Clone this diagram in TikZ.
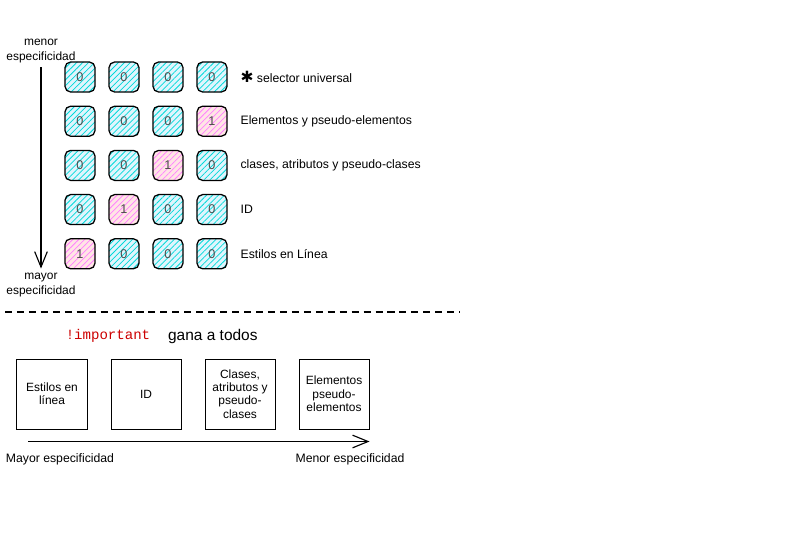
\documentclass[tikz,border=0pt]{standalone}
\usepackage{fontspec}
\setmainfont{Liberation Sans}
\newfontfamily\codefont{Liberation Mono}
\newfontfamily\symfont{DejaVu Sans}
\usetikzlibrary{arrows.meta, patterns.meta, positioning}

\begin{document}
\begin{tikzpicture}[
        x=0.025cm, y=-0.025cm,
        cell/.style={draw=black, line width=0.9pt, rounded corners=4pt,
            minimum size=0.75cm, inner sep=0pt,
            font=\fontsize{9}{10}\selectfont, text=black!70},
        zero/.style={cell, preaction={fill=cyan!12},
            pattern={Lines[angle=45, distance=3pt, line width=0.55pt]},
            pattern color=cyan!70!teal},
        one/.style={cell, preaction={fill=pink!40},
            pattern={Lines[angle=45, distance=3pt, line width=0.55pt]},
            pattern color=magenta!50},
        rowlabel/.style={font=\fontsize{8.7}{10}\selectfont},
        sidelabel/.style={align=center, font=\fontsize{8.5}{10}\selectfont},
        rankbox/.style={draw=black, line width=0.7pt, minimum size=1.75cm,
            inner sep=1pt, align=center, font=\fontsize{8.5}{9.5}\selectfont},
        flow/.style={line width=0.8pt, -{Straight Barb[length=11pt, width=9pt]}}
    ]

    \useasboundingbox (0,0) rectangle (800,533);

    % Grid of specificity values
    \foreach \r/\hit in {1/0,2/4,3/3,4/2,5/1}
        \foreach \c in {1,...,4} {
            \pgfmathsetmacro\px{80+44*(\c-1)}
            \pgfmathsetmacro\py{77+44.2*(\r-1)}
            \ifnum\c=\hit
                \node[one] (c\r\c) at (\px,\py) {1};
            \else
                \node[zero] (c\r\c) at (\px,\py) {0};
            \fi
        }

    % Row labels
    \node[rowlabel, right=0.2cm of c14] (l1) {{\symfont\fontsize{11}{11}\selectfont ✱} selector universal};
    \foreach \r/\txt in {2/Elementos y pseudo-elementos,
                         3/{clases, atributos y pseudo-clases},
                         4/ID,
                         5/Estilos en Línea}
        \node[rowlabel, right=0.2cm of c\r4] (l\r) {\txt};

    % Vertical direction
    \node[sidelabel] (menor) at (41,51) {menor\\especificidad};
    \node[sidelabel] (mayor) at (41,285) {mayor\\especificidad};
    \draw[flow] (menor.south) -- (mayor.north);

    % Separator
    \coordinate (d0) at (5,312);
    \coordinate (d1) at (460,312);
    \draw[line width=0.8pt, dash pattern=on 5pt off 3.5pt] (d0) -- (d1);

    % !important
    \node[text=red!80!black, font=\codefont\fontsize{10}{12}\selectfont] (imp) at (108,336) {!important};
    \node[font=\fontsize{11}{12}\selectfont, right=0.2cm of imp] (gana) {gana a todos};

    % Ranking boxes
    \node[rankbox] (b1) at (52,394) {Estilos en\\línea};
    \node[rankbox, right=0.575cm of b1] (b2) {ID};
    \node[rankbox, right=0.575cm of b2] (b3) {Clases,\\atributos y\\pseudo-\\clases};
    \node[rankbox, right=0.575cm of b3] (b4) {Elementos\\pseudo-\\elementos};

    % Horizontal direction
    \draw[flow] ([shift={(12,12)}]b1.south west) -- ([shift={(0,12)}]b4.south east);
    \node[rowlabel] (mayorb) at (60,459) {Mayor especificidad};
    \node[rowlabel] (menorb) at (350,459) {Menor especificidad};

\end{tikzpicture}
\end{document}
